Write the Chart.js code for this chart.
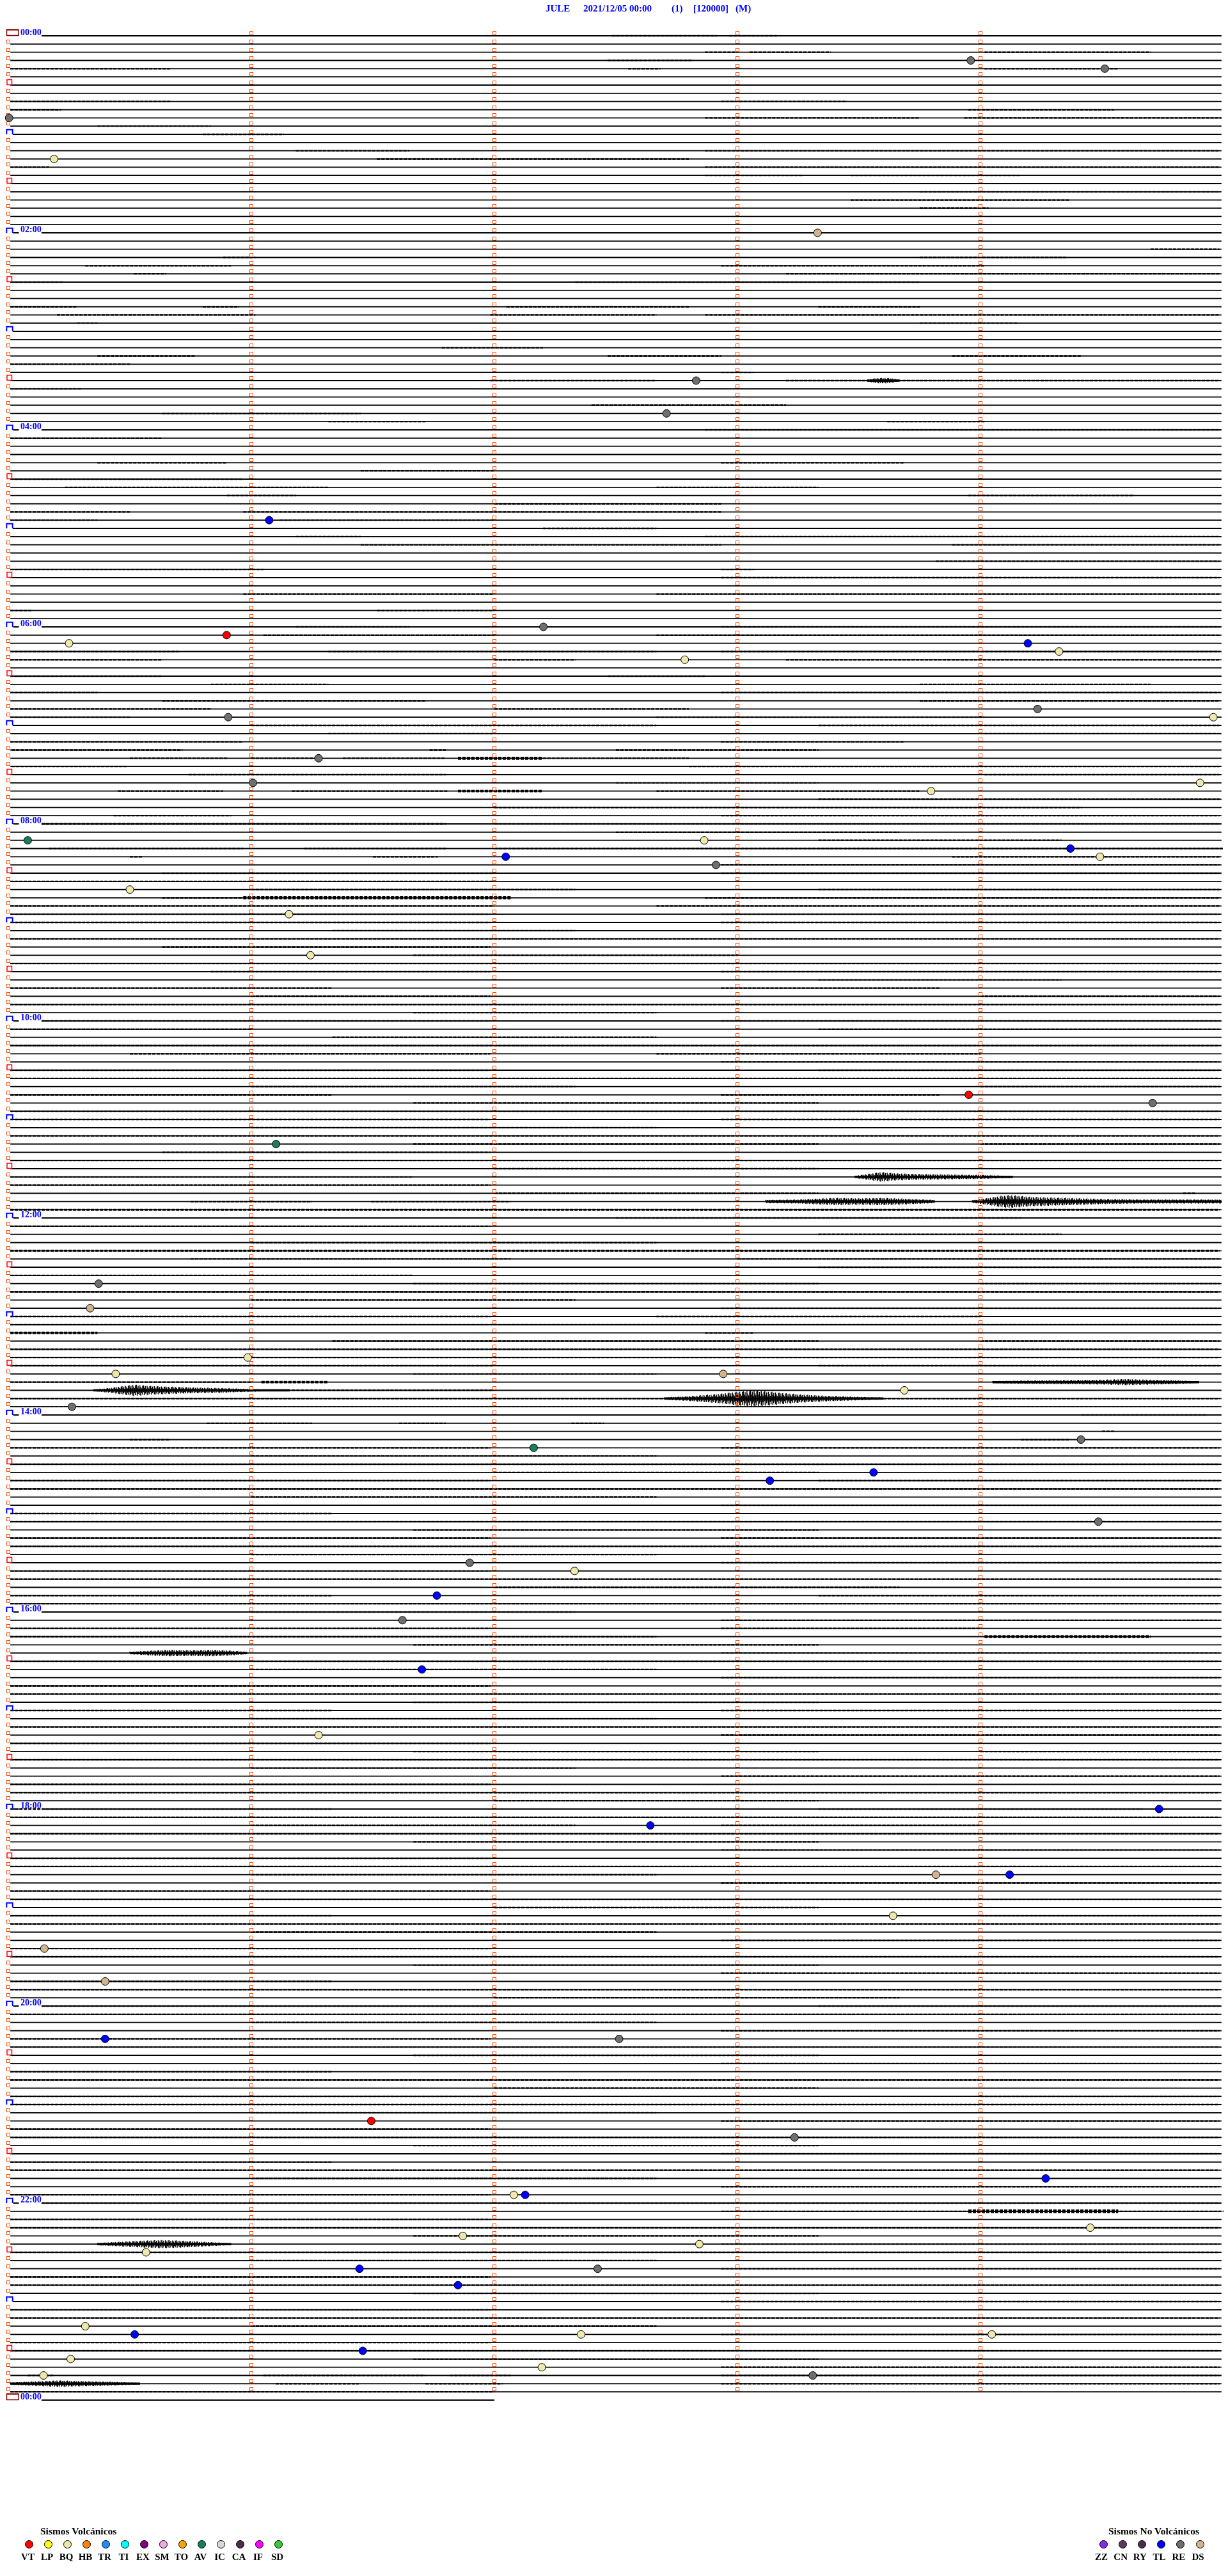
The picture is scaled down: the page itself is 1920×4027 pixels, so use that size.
<!DOCTYPE html>
<html><head><meta charset="utf-8">
<script src="https://cdn.jsdelivr.net/npm/chart.js@4.4.0/dist/chart.umd.min.js"></script>
<style>
html,body{margin:0;padding:0;background:#fff;}
body{width:1920px;height:4027px;position:relative;overflow:hidden;}
#c{position:absolute;left:0;top:0;}
.t{position:absolute;font-family:"Liberation Serif","Times New Roman",serif;font-weight:bold;white-space:pre;}
.title{color:#0000ff;font-size:15px;line-height:15px;}
.hl{color:#0000ff;font-size:14px;line-height:14px;}
.lt{color:#000;font-size:15.5px;line-height:15.5px;}
.ll{color:#000;font-size:15px;line-height:15px;width:40px;text-align:center;}
.dot{position:absolute;width:11px;height:11px;border-radius:50%;border:1px solid #000;}
</style></head><body>
<canvas id="c" width="1920" height="4027" style="width:1920px;height:4027px"></canvas>
<div id="ov"></div>
<script>
// ---------- data ----------
const rowCount = 288;                 // 5-minute rows over 24 h
const rowSeconds = 300;
const minuteTicks = [0, 60, 120, 180, 240];
const labelRows = [0, 24, 48, 72, 96, 120, 144, 168, 192, 216, 240, 264, 288];
const hourLabels = ['00:00','02:00','04:00','06:00','08:00','10:00','12:00','14:00','16:00','18:00','20:00','22:00','00:00'];
const lastRowEndSec = 120;

const titleParts = ['JULE', '2021/12/05 00:00', '(1)', '[120000]', '(M)'];

const eventRow = [3,4,10,15,24,42,46,59,73,72,74,74,75,76,82,83,83,88,91,92,91,98,98,100,99,100,101,104,107,112,129,130,135,152,155,161,163,163,165,167,171,172,176,175,181,186,187,190,193,199,207,216,218,224,224,229,233,237,244,244,254,256,261,263,263,267,268,269,270,272,272,274,279,280,280,280,283,282,284,285,285];
const eventSec = [237.6,270.7,0.2,11.3,199.8,169.8,162.5,64.4,53.9,132.1,15.0,251.7,259.4,167,254.1,297.5,54.3,76.6,60.4,227.8,294.2,4.8,171.8,122.8,262.2,269.5,174.7,30,69.3,74.6,237.1,282.5,66.1,22.3,20.2,59.1,26.5,176.5,221.2,15.7,264.8,129.7,188,213.6,269.1,113.9,139.8,105.8,97.3,102.1,76.6,284.1,158.5,229,247.2,218.4,8.9,23.9,23.9,150.8,89.6,194.1,256.1,124.8,127.6,267.1,112.2,170.6,34,86.7,145.5,111,19,141.4,242.8,31.2,15.4,87.5,131.7,8.7,198.6];
const eventType = ['RE','RE','RE','BQ','DS','RE','RE','TL','VT','RE','BQ','TL','BQ','BQ','RE','BQ','RE','RE','RE','BQ','BQ','AV','BQ','TL','TL','BQ','RE','BQ','BQ','BQ','VT','RE','AV','RE','DS','BQ','BQ','DS','BQ','RE','RE','AV','TL','TL','RE','RE','BQ','TL','RE','TL','BQ','TL','TL','DS','TL','BQ','DS','DS','TL','RE','VT','RE','TL','BQ','TL','BQ','BQ','BQ','BQ','TL','RE','TL','BQ','BQ','BQ','TL','BQ','TL','BQ','BQ','RE'];

const volcanicTypes  = ['VT','LP','BQ','HB','TR','TI','EX','SM','TO','AV','IC','CA','IF','SD'];
const volcanicColors = ['#ff0000','#ffff00','#eee8aa','#ff8010','#1e8cff','#00ffff','#800080','#eeaae6','#ffa500','#1e7b5e','#d8d8d8','#4b2d4b','#ff00ff','#32cd32'];
const nonVolcanicTypes  = ['ZZ','CN','RY','TL','RE','DS'];
const nonVolcanicColors = ['#8a2be2','#5b3b5b','#4b2d4b','#0000ff','#6e6e6e','#d2b48c'];

// background noise: [row, fromSec, toSec, amplitude(rows)]
const noiseSegs = [
[0,149,175],[0,178,190],[2,172,180],[2,183,203],[2,241,282],[3,148,169],[4,0.5,40],[4,153,161],[4,241,274],
[8,0.5,40],[8,176,207],[9,0.5,13],[9,237,273],[10,172,225],[10,236,299.5],[11,22,50],[12,48,68],
[14,71,99],[14,172,299],[15,91,168],[16,0.5,10],[16,172,299],[17,172,196],[17,208,250],[19,225,299],
[20,208,262],[21,225,242],[26,282,299],[27,53,61],[27,225,261],[28,19,55],[28,176,241],[29,31,39],[29,192,299],
[30,0.5,13.4],[30,140,225],[33,0.5,17],[33,48,57],[33,123,168],[33,200,225],[34,12,61],[34,119,160],[34,172,299],
[35,17,22],[35,225,249],[38,107,132],[39,22,46],[39,148,176],[39,233,265],[40,0.5,30],[41,176,184],
[42,119,160],[42,192,225],[42,225,299],[43,0.5,18],[45,144,192],[46,38,87],[47,79,103],[47,217,241],
[48,172,299],[49,0.5,38],[52,22,54],[52,176,221],[53,87,120],[54,0.5,58],[55,14,79],[55,160,200],
[56,54,71],[56,237,278],[57,120,176],[58,0.5,30],[58,58,176],[59,0.5,22],[59,67,120],[60,132,160],
[61,71,87],[61,172,299],[62,87,176],[62,233,299],[64,229,299],[65,0.5,63],[65,176,184],[66,176,299],
[68,58,120],[68,160,299],[70,0.5,6],[70,91,120],[72,71,99],[72,176,299],[73,63,120],[73,160,299],
[75,0.5,42],[75,79,160],[75,176,299],[76,0.5,38],[76,120,140],[76,192,299],[78,0.5,38],[78,148,172],
[79,50,79],[79,225,282],[80,0.5,22],[80,176,299],[81,38,103],[81,225,299],[82,0.5,50],[82,120,168],
[83,0.5,30],[83,160,241],
[84,60,160],[84,200,299],[85,79,120],[85,241,299],[86,0.5,58],[86,176,221],[87,0.8,43],[87,104,108],[87,150,200],
[88,30,54],[88,60,76],[88,82.6,108],[88,111,132,0.18],[88,132,168],[89,0.8,29.5],[89,168,299],
[90,44.5,108],[90,241,299],[91,150,200],[92,27,53],[92,70,108.5],[92,111,132,0.15],[92,160,225],
[93,200,299],[94,120,265],[95,26,55],[95,176,299],[96,8.2,108,0.11],[96,120,299],[97,150,220],[98,200,260],
[99,10,58],[99,73,108],[99,120,300],[100,30,33],[100,90,106],[100,233,299],[101,176,299],[102,38,120],[102,176,299],
[103,0.5,120],[104,60,140],[104,200,299],[105,38,58],[105,58,124,0.2],[105,172,299],[106,0.5,120],[106,160,299],
[107,0.5,119],[107,176,299],[108,0.5,119],[108,176,299],[109,80,140],[110,0.5,299],[111,38,119],[112,100,180],
[113,0.5,299],[114,50,119],[114,176,299],[115,200,260],[116,0.5,80],[116,176,230],[117,60,119],[117,240,299],
[118,0.5,299],[119,100,160],[120,8.2,119],[120,176,299],[121,0.5,60],[121,200,299],[122,80,160],[123,0.5,299],
[124,30,119],[124,160,240],[125,176,299],[126,0.5,119],[126,200,299],[127,0.5,299],[128,60,140],[128,240,299],
[129,0.5,80],[129,176,230],[130,100,200],[131,0.5,299],[132,0.5,119],[132,176,299],[133,60,160],[134,0.5,299],
[135,100,200],[135,240,299],[136,38,119],[137,0.5,299],[138,120,200],[139,0.5,100],[140,0.5,119],[141,290,293],
[141,120,200],[142,45,75],[142,89.6,124],[143,0.5,299,0.12],[144,150,250],[145,0.5,119],[146,200,260],[147,60,160],
[148,0.5,299,0.12],[149,45,124],[149,180,299],[150,200,299],[151,0.5,100],[152,100,200],[152,240,299],[153,0.5,299],
[154,60,140],[155,176,299],[156,0.5,119],[156,160,240],[157,0.5,299],[158,0.5,22,0.15],[158,172,184],[159,80,200],
[159,240,299],[160,0.5,299,0.1],[161,0.5,299,0.09],[162,0.5,120],[162,200,299],[163,100,160],[164,0.5,60],
[164,62.5,79,0.15],[165,70,120],[166,0.5,162,0.1],[166,216,299],[167,0.5,299,0.07],[168,265,296],[169,49,75],
[169,96.5,108],[169,139,147],[170,270,273],[171,30,40],[171,250,262],[172,0.5,119],[172,176,299],[173,60,160],
[174,0.5,299],[175,120,200],[176,0.5,119],[176,200,299],[177,0.5,299],[178,60,160],[179,176,299],[180,0.5,80],
[181,0.5,299],[182,100,200],[183,0.5,119],[183,176,299],[184,0.5,299],[185,60,160],[186,176,299],[187,0.5,119],
[188,0.5,299],[189,120,220],[190,0.5,80],[190,200,299],[191,0.5,299],[192,60,140],[193,176,299],[194,0.5,119],
[194,176,240],[195,0.5,160],[195,241,282,0.18],[196,100,200],[197,176,299],[198,0.5,299],[199,60,160],[200,176,299],
[201,0.5,119],[202,0.5,299],[203,100,200],[204,0.5,80],[204,176,299],[205,60,160],[206,0.5,299],[207,176,299],
[208,0.5,119],[209,100,200],[209,240,299],[210,0.5,299],[211,60,140],[212,176,299],[213,0.5,119],[214,0.5,299],
[215,120,200],[216,0.5,80],[216,200,280],[217,0.5,299],[218,60,140],[218,176,240],[219,0.5,299],[220,100,200],
[221,176,299],[222,0.5,119],[223,0.5,299],[224,60,160],[225,176,299],[226,0.5,119],[227,0.5,299],[228,120,200],
[229,0.5,80],[229,240,299],[230,0.5,299],[231,60,160],[232,176,299],[233,0.5,119],[234,0.5,299],[235,100,200],
[236,176,299],[237,0.5,80],[238,0.5,299],[239,120,220],[240,8.2,119],[240,200,299],[241,0.5,299],[242,60,160],
[243,176,299],[244,0.5,119],[245,0.5,299],[246,100,200],[247,176,299],[248,0.5,80],[249,0.5,299],[250,120,200],
[251,0.5,119],[251,240,299],[252,0.5,299],[253,60,160],[254,176,299],[255,0.5,119],[256,0.5,299],[257,100,200],
[258,176,299],[259,0.5,80],[260,0.5,299],[261,60,160],[262,176,299],[263,0.5,119],[264,8.2,299],[265,176,300],
[265,237,274,0.22],[266,0.5,119],[267,0.5,299],[268,100,200],[269,176,299],[270,0.5,299],[271,60,160],[272,176,299],
[273,0.5,119],[274,0.5,299],[275,100,200],[276,176,299],[277,0.5,119],[278,0.5,299],[279,60,160],[280,176,299],
[281,0.5,119],[282,0.5,299],[283,100,200],[284,176,299],[285,4.8,11],[285,63,103],[285,109,124],[285,176,299],
[286,66,86.5],[286,103,122],[286,176,299],[287,0.5,120]
];

// larger signals: [row, envelope seconds, envelope amplitudes (rows)]
const bursts = [
[42,  [212,214,216,218,220], [0.1,0.3,0.35,0.3,0.1]],
[139, [209,212,215.5,219,225,232,240,248], [0.15,0.35,0.6,0.45,0.35,0.3,0.25,0.12]],
[142, [187,195,204,210,216,222,228.6], [0.2,0.25,0.45,0.4,0.45,0.35,0.2]],
[142, [238,242,245,247.5,252,258,265,272,280,290,299.5], [0.15,0.45,0.7,0.8,0.6,0.5,0.4,0.3,0.25,0.25,0.25]],
[164, [243,250,260,270,276,282,288,294], [0.12,0.2,0.25,0.3,0.38,0.3,0.25,0.1]],
[165, [21,25,28,31,35,40,46,52,58,63,69.5], [0.1,0.3,0.5,0.7,0.55,0.45,0.35,0.3,0.2,0.12,0.08]],
[166, [162,168,172,176,180,184,188,192,196,202,208,216], [0.15,0.3,0.45,0.6,0.85,1.0,0.85,0.65,0.5,0.35,0.25,0.12]],
[197, [30,35,40,45,50,55,59], [0.15,0.3,0.4,0.35,0.4,0.3,0.15]],
[269, [22,28,34,38,42,46,50,55], [0.15,0.3,0.45,0.5,0.45,0.35,0.25,0.12]],
[286, [0.5,5,10,12.5,16,20,25,32.5], [0.15,0.25,0.35,0.4,0.35,0.3,0.25,0.1]]
];

// ---------- build ----------
const typeColor = {};
volcanicTypes.forEach((t,i)=>typeColor[t]=volcanicColors[i]);
nonVolcanicTypes.forEach((t,i)=>typeColor[t]=nonVolcanicColors[i]);
typeColor.BQ = '#eee8aa';

const baseline = [];
for (let r = 0; r <= rowCount; r++) {
  const labelled = labelRows.includes(r);
  const start = labelled ? 8.2 : (r % 12 === 0 ? 1.1 : 0.5);
  const end = r === rowCount ? lastRowEndSec : 299.5;
  if (labelled && r !== 0 && r !== rowCount) {
    baseline.push({x:1.2,y:r},{x:2.6,y:r},{x:2.6,y:null});
  }
  baseline.push({x:start,y:r},{x:end,y:r},{x:end,y:null});
}

const eventData = eventRow.map((r,i)=>({x:eventSec[i], y:r}));
const eventColors = eventType.map(t=>typeColor[t]);

// stroke texture pattern for burst rendering (visual style only)
const hatchPattern = [1, 0.5, 0.85, 0.35, 0.95, 0.65, 0.4, 0.9];

const heli = {
  id:'heli',
  afterDatasetDraw(chart, args){
    if (args.index !== 0) return;
    const ctx = chart.ctx, xs = chart.scales.x, ys = chart.scales.y;
    const rowPx = Math.abs(ys.getPixelForValue(1) - ys.getPixelForValue(0));
    const x0 = xs.getPixelForValue(0);
    ctx.save();
    // noise
    ctx.strokeStyle = '#000';
    ctx.setLineDash([5,2]);
    noiseSegs.forEach(s=>{
      const amp = s[3] || 0.09;
      const y = ys.getPixelForValue(s[0]);
      ctx.lineWidth = Math.max(1.5, 2*amp*rowPx);
      ctx.beginPath();
      ctx.moveTo(xs.getPixelForValue(s[1]), y);
      ctx.lineTo(xs.getPixelForValue(s[2]), y);
      ctx.stroke();
    });
    ctx.setLineDash([]);
    // bursts: hatched vertical strokes inside the read envelope
    ctx.strokeStyle = '#000';
    bursts.forEach(b=>{
      const y = ys.getPixelForValue(b[0]);
      const secs = b[1], amps = b[2];
      const px = secs.map(s=>xs.getPixelForValue(s));
      ctx.beginPath();
      ctx.lineWidth = 3.5;
      ctx.moveTo(px[0], y); ctx.lineTo(px[px.length-1], y); ctx.stroke();
      ctx.lineWidth = 1.5;
      let k = 0;
      for (let x = px[0]; x <= px[px.length-1]; x += 1.4, k++) {
        let j = 0;
        while (j < px.length-2 && x > px[j+1]) j++;
        const f = px[j+1] === px[j] ? 0 : Math.min(1, Math.max(0, (x - px[j]) / (px[j+1] - px[j])));
        const a = (amps[j] + (amps[j+1] - amps[j]) * f) * rowPx;
        const up = a * hatchPattern[k % hatchPattern.length];
        const dn = a * hatchPattern[(k + 3) % hatchPattern.length];
        ctx.beginPath();
        ctx.moveTo(x, y - up);
        ctx.lineTo(x, y + dn);
        ctx.stroke();
      }
    });
    // minute markers
    ctx.strokeStyle = '#ff4500';
    ctx.lineWidth = 1;
    for (let r = 0; r < rowCount; r++) {
      const y = Math.round(ys.getPixelForValue(r));
      minuteTicks.forEach(t=>{
        if (t === 0 && r % 6 === 0) return;
        const x = Math.round(xs.getPixelForValue(t));
        ctx.strokeRect(x-2.5, y-6.5, 5, 5);
      });
    }
    // hour / half-hour boxes
    for (let r = 0; r <= rowCount; r++) {
      const y = Math.round(ys.getPixelForValue(r));
      if (r === 0 || r === rowCount) {
        ctx.strokeStyle = '#8b0000';
        ctx.lineWidth = 1.5;
        ctx.strokeRect(x0-2.5, y-9.5, 18.5, 9);
        ctx.lineWidth = 2;
        ctx.beginPath(); ctx.moveTo(x0-3, y-9.5); ctx.lineTo(x0+16.5, y-9.5); ctx.stroke();
      } else if (r % 12 === 0) {
        ctx.strokeStyle = '#0000ff';
        ctx.lineWidth = 2;
        ctx.beginPath();
        ctx.moveTo(x0-2.7, y); ctx.lineTo(x0-2.7, y-7.3); ctx.lineTo(x0+6.7, y-7.3); ctx.lineTo(x0+6.7, y);
        ctx.stroke();
      } else if (r % 12 === 6) {
        ctx.strokeStyle = '#ff0000';
        ctx.lineWidth = 1.5;
        ctx.strokeRect(x0-2, y-8.5, 7.5, 8);
      }
    }
    ctx.restore();
  }
};

const chart = new Chart(document.getElementById('c'), {
  type: 'scatter',
  data: { datasets: [
    { type:'line', data: baseline, borderColor:'#000', borderWidth:1.8, pointRadius:0, spanGaps:false, order:2, clip:false, tension:0 },
    { type:'scatter', data: eventData, pointRadius:6, pointHoverRadius:6, pointBackgroundColor:eventColors, pointBorderColor:'#000', pointBorderWidth:1, order:1, clip:false }
  ]},
  options: {
    responsive:false, animation:false, devicePixelRatio:1,
    layout:{ padding:{ left:13, right:7, top:56, bottom:275 } },
    scales:{
      x:{ type:'linear', min:0, max:rowSeconds, display:false },
      y:{ type:'linear', min:0, max:rowCount, reverse:true, display:false }
    },
    plugins:{ legend:{display:false}, title:{display:false}, tooltip:{enabled:false} },
    events:[]
  },
  plugins:[heli]
});

// ---------- text overlays ----------
const ov = document.getElementById('ov');
function addText(cls, txt, left, top, extra){
  const d = document.createElement('div');
  d.className = 't ' + cls; d.textContent = txt;
  d.style.left = left + 'px'; d.style.top = top + 'px';
  if (extra) Object.assign(d.style, extra);
  ov.appendChild(d); return d;
}
const titleX = [853, 912, 1050, 1084, 1150];
titleParts.forEach((p,i)=>addText('title', p, titleX[i], 5.5));

const xs = chart.scales.x, ys = chart.scales.y;
labelRows.forEach((r,i)=>{
  addText('hl', hourLabels[i], xs.getPixelForValue(0) + 19, ys.getPixelForValue(r) - 11.7);
});

function legend(types, colors, titleTxt, titleLeft, cx0, step, labelShift){
  addText('lt', titleTxt, titleLeft, 3949);
  types.forEach((t,i)=>{
    const cx = cx0 + step*i;
    const dot = document.createElement('div');
    dot.className = 'dot';
    dot.style.left = (cx-6.5)+'px'; dot.style.top = (3977-6.5)+'px';
    dot.style.background = colors[i];
    ov.appendChild(dot);
    addText('ll', t, cx - 20 + labelShift, 3989.5);
  });
}
legend(volcanicTypes, volcanicColors, 'Sismos Volcánicos', 63, 45, 30, -1.5);
legend(nonVolcanicTypes, nonVolcanicColors, 'Sismos No Volcánicos', 1733, 1725, 30.2, -3);
</script>
</body></html>
